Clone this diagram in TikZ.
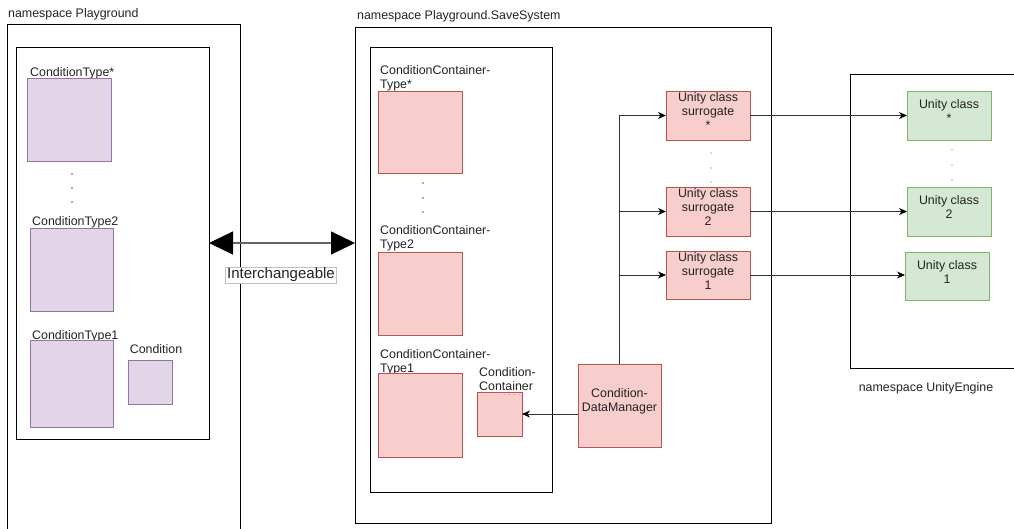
\documentclass[tikz,border=0pt]{standalone}
\usepackage{fontspec}
\setmainfont{Liberation Sans}
\usetikzlibrary{arrows.meta,fit}

\definecolor{violetfill}{HTML}{E1D5E7}
\definecolor{violetline}{HTML}{9673A6}
\definecolor{redfill}{HTML}{F8CECC}
\definecolor{redline}{HTML}{B85450}
\definecolor{greenfill}{HTML}{D5E8D4}
\definecolor{greenline}{HTML}{82B366}
\definecolor{inktext}{HTML}{222222}

\begin{document}
\begin{tikzpicture}[x=1pt,y=-1pt,
  every node/.style={font=\fontsize{12.4}{14}\selectfont, text=inktext},
  frame/.style={draw=black, line width=0.9pt, inner sep=0pt, outer sep=0pt},
  vbox/.style={draw=violetline, fill=violetfill, line width=0.9pt, inner sep=0pt, outer sep=0pt},
  rbox/.style={draw=redline, fill=redfill, line width=0.9pt, inner sep=0pt, outer sep=0pt, align=center},
  gbox/.style={draw=greenline, fill=greenfill, line width=0.9pt, inner sep=0pt, outer sep=0pt, align=center},
  lbl/.style={anchor=base west, inner sep=0pt, align=left},
  conn/.style={draw=black!80, line width=0.9pt, -{Stealth[length=8pt,width=7pt,inset=2.5pt,color=black]}},
  swap/.style={draw=black!60, line width=1.2pt,
    {Triangle[length=24pt,width=23pt,color=black]}-{Triangle[length=24pt,width=23pt,color=black]}},
  dotmark/.style={fill=black!65}
]
\useasboundingbox (0,0) rectangle (1014,528);
\clip (0,0) rectangle (1014,528);

% ---------- namespace Playground ----------
\node[lbl] (pgtitle) at (8,17.5) {namespace Playground};
\node[frame, fit={(7,24) (240,560)}] (pgout) {};
\node[frame, fit={(16,47) (209,439)}] (pgin) {};

\node[lbl] (ct3l) at (30,76.5) {ConditionType*};
\node[vbox, fit={(27,78) (111,161)}] (ct3) {};
\node[lbl] (ct2l) at (32,225.5) {ConditionType2};
\node[vbox, fit={(30,228) (113,311)}] (ct2) {};
\node[lbl] (ct1l) at (32,339.5) {ConditionType1};
\node[vbox, fit={(30,340) (113,427)}] (ct1) {};
\node[anchor=base, inner sep=0pt] (condl) at (156,353.5) {Condition};
\node[vbox, fit={(128,360) (172,404)}] (cond) {};

\foreach \yy in {174,188,202} \fill[dotmark] (72,\yy) circle (0.9pt);

% ---------- namespace Playground.SaveSystem ----------
\node[lbl] (sstitle) at (357,19.5) {namespace Playground.SaveSystem};
\node[frame, fit={(355,27) (771,523)}] (ssout) {};
\node[frame, fit={(370,47) (552,492)}] (ssin) {};

% two-line labels: the base anchor sits on the last line
\node[lbl] (cct3l) at (380,88.5) {ConditionContainer-\\Type*};
\node[rbox, fit={(378,91) (462,173)}] (cct3) {};
\node[lbl] (cct2l) at (380,248.5) {ConditionContainer-\\Type2};
\node[rbox, fit={(378,252) (462,335)}] (cct2) {};
\node[lbl] (cct1l) at (380,372) {ConditionContainer-\\Type1};
\node[rbox, fit={(378,373) (462,457)}] (cct1) {};
\node[lbl] (ccl) at (479,390.5) {Condition-\\Container};
\node[rbox, fit={(477,392) (522,436)}] (cc) {};
\foreach \xx in {504,509,514,519} \fill[black!45] (\xx,394.5) circle (0.5pt);

\foreach \yy in {183,198,212} \fill[dotmark] (423,\yy) circle (0.9pt);

\node[rbox, fit={(578,364) (661,447)}] (dm) {Condition-\\DataManager};

\node[rbox, fit={(666,91) (750,140)}] (s3) {Unity class\\surrogate\\{*}};
\node[rbox, fit={(666,187) (750,236)}] (s2) {Unity class\\surrogate\\2};
\node[rbox, fit={(666,251) (750,299)}] (s1) {Unity class\\surrogate\\1};
\foreach \yy in {153,168,182} \fill[dotmark] (711,\yy) circle (0.6pt);

% ---------- namespace UnityEngine ----------
\node[frame, fit={(850,74) (1040,368)}] (ueout) {};
\node[anchor=base, inner sep=0pt] (uetitle) at (926,391) {namespace UnityEngine};

\node[gbox, fit={(907,91) (991,140)}] (u3) {Unity class\\{*}};
\node[gbox, fit={(907,187) (991,236)}] (u2) {Unity class\\2};
\node[gbox, fit={(905,252) (989,300)}] (u1) {Unity class\\1};
\foreach \yy in {150,165,180} \fill[dotmark] (952,\yy) circle (0.6pt);

% ---------- connectors ----------
\draw[swap] (pgin.east) -- (pgin.east -| ssout.west);
\node[draw=black!25, fill=white, line width=0.6pt, inner xsep=1.5pt, inner ysep=0pt,
      minimum height=16pt, font=\fontsize{15}{17}\selectfont] (swaplbl) at (281,275) {Interchangeable};

\draw[conn] (dm.west |- cc.east) -- (cc.east);
\draw[conn] (dm.north) |- (s3.west);
\draw[conn] (dm.north) |- (s2.west);
\draw[conn] (dm.north) |- (s1.west);

\draw[conn] (s3.east) -- (s3.east -| u3.west);
\draw[conn] (s2.east) -- (s2.east -| u2.west);
\draw[conn] (s1.east) -- (s1.east -| u1.west);
\end{tikzpicture}
\end{document}
